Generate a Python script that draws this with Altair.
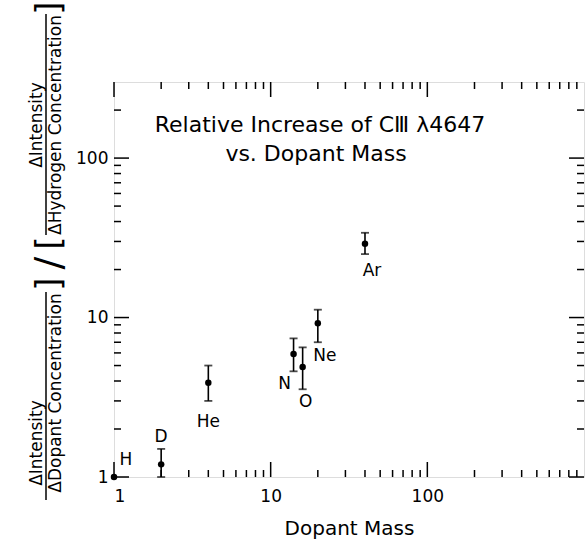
import altair as alt
import pandas as pd

# ---- data ----
elements = ["H", "D", "He", "N", "O", "Ne", "Ar"]
mass = [1, 2, 4, 14, 16, 20, 40]
ratio = [1.0, 1.2, 3.9, 5.9, 4.9, 9.2, 29.0]
err_low = [1.0, 1.0, 3.0, 4.6, 3.55, 7.0, 25.0]
err_high = [1.0, 1.5, 5.0, 7.4, 6.5, 11.2, 34.0]
has_err = [False, True, True, True, True, True, True]

x_major = [1, 10, 100]
x_minor = [2, 3, 4, 5, 6, 7, 8, 9, 20, 30, 40, 50, 60, 70, 80, 90,
           200, 300, 400, 500, 600, 700, 800, 900]
y_major = [1, 10, 100]
y_minor = [2, 3, 4, 5, 6, 7, 8, 9, 20, 30, 40, 50, 60, 70, 80, 90, 200]

title_lines = ["Relative Increase of CⅢ λ4647", "vs. Dopant Mass"]
x_title = "Dopant Mass"

# ---- styling ----
FONT = "DejaVu Sans"
W, H = 470, 395
label_offsets = {  # (dx, dy) in pixels from the point
    "H": (12, -17), "D": (0, -27), "He": (0, 39), "N": (-9, 30),
    "O": (3, 35), "Ne": (7, 33), "Ar": (7, 27),
}

df = pd.DataFrame({"el": elements, "mass": mass, "ratio": ratio,
                   "lo": err_low, "hi": err_high, "err": has_err})
xs = alt.Scale(type="log", domain=[1, 1000])
ys = alt.Scale(type="log", domain=[1, 300])

xaxis = alt.Axis(values=x_major, format="d", ticks=False, domain=False, grid=False,
                 labelFont=FONT, labelFontSize=17, labelColor="black", labelPadding=11,
                 title=x_title, titleFont=FONT, titleFontSize=20, titleFontWeight="normal",
                 titleColor="black", titlePadding=14)
yaxis = alt.Axis(values=y_major, format="d", ticks=False, domain=False, grid=False,
                 labelFont=FONT, labelFontSize=17, labelColor="black", labelPadding=6,
                 title="")

base = alt.Chart(df)
err = df[df["err"]]
errbars = alt.Chart(err).mark_rule(color="black", strokeWidth=1.6).encode(
    x=alt.X("mass:Q", scale=xs, axis=xaxis),
    y=alt.Y("lo:Q", scale=ys, axis=yaxis), y2="hi:Q")
caps_lo = alt.Chart(err).mark_tick(color="black", orient="horizontal", size=8, thickness=1.8).encode(
    x=alt.X("mass:Q", scale=xs), y=alt.Y("lo:Q", scale=ys))
caps_hi = alt.Chart(err).mark_tick(color="black", orient="horizontal", size=8, thickness=1.8).encode(
    x=alt.X("mass:Q", scale=xs), y=alt.Y("hi:Q", scale=ys))
points = base.mark_circle(color="black", opacity=1, size=42).encode(
    x=alt.X("mass:Q", scale=xs), y=alt.Y("ratio:Q", scale=ys))

labels = []
for el, (dx, dy) in label_offsets.items():
    labels.append(base.transform_filter(alt.datum.el == el).mark_text(
        font=FONT, fontSize=17, color="black", dx=dx, dy=dy, align="center", baseline="middle"
    ).encode(x=alt.X("mass:Q", scale=xs), y=alt.Y("ratio:Q", scale=ys), text="el:N"))

# inward ticks on all four sides
def xticks(vals, length):
    d = pd.DataFrame({"v": vals})
    bot = alt.Chart(d).mark_rule(color="black", strokeWidth=1.5).encode(
        x=alt.X("v:Q", scale=xs), y=alt.value(H), y2=alt.value(H - length))
    top = alt.Chart(d).mark_rule(color="black", strokeWidth=1.5).encode(
        x=alt.X("v:Q", scale=xs), y=alt.value(0), y2=alt.value(length))
    return [bot, top]

def yticks(vals, length):
    d = pd.DataFrame({"v": vals})
    left = alt.Chart(d).mark_rule(color="black", strokeWidth=1.5).encode(
        y=alt.Y("v:Q", scale=ys), x=alt.value(0), x2=alt.value(length))
    right = alt.Chart(d).mark_rule(color="black", strokeWidth=1.5).encode(
        y=alt.Y("v:Q", scale=ys), x=alt.value(W), x2=alt.value(W - length))
    return [left, right]

tick_layers = xticks(x_major, 15) + xticks(x_minor, 7) + yticks(y_major, 15) + yticks(y_minor, 7)

# in-plot title
tdf = pd.DataFrame({"t": title_lines, "i": [0, 1]})
title1 = alt.Chart(tdf).transform_filter(alt.datum.i == 0).mark_text(
    font=FONT, fontSize=22, color="black", align="center", baseline="middle").encode(
    text="t:N", x=alt.value(206), y=alt.value(43))
title2 = alt.Chart(tdf).transform_filter(alt.datum.i == 1).mark_text(
    font=FONT, fontSize=22, color="black", align="center", baseline="middle").encode(
    text="t:N", x=alt.value(202), y=alt.value(72))

# composite y-axis title (rotated), positions relative to plot origin
ytitle_parts = [
    ("]", -64, 8 - 82, 34),
    ("ΔHydrogen Concentration", -58, 125 - 82, 17),
    ("ΔIntensity", -77, 125 - 82, 17),
    ("[", -64, 243 - 82, 34),
    ("/", -64, 263 - 82, 38),
    ("]", -64, 284 - 82, 34),
    ("ΔDopant Concentration", -58, 393 - 82, 17),
    ("ΔIntensity", -77, 443 - 82, 17),
]
ytitle_layers = []
for i, (txt, px, py, fs) in enumerate(ytitle_parts):
    d = pd.DataFrame({"t": [txt]})
    ytitle_layers.append(alt.Chart(d).mark_text(
        font=FONT, fontSize=fs, color="black", angle=270, align="center", baseline="middle"
    ).encode(text="t:N", x=alt.value(px), y=alt.value(py)))
bars = pd.DataFrame({"k": ["a", "b"]})
ybar1 = alt.Chart(bars).transform_filter(alt.datum.k == "a").mark_rule(color="black", strokeWidth=1.5).encode(
    x=alt.value(-68), y=alt.value(14 - 82), y2=alt.value(235 - 82))
ybar2 = alt.Chart(bars).transform_filter(alt.datum.k == "b").mark_rule(color="black", strokeWidth=1.5).encode(
    x=alt.value(-68), y=alt.value(292 - 82), y2=alt.value(500 - 82))

chart = alt.layer(
    errbars, caps_lo, caps_hi, points, *labels, *tick_layers, title1, title2,
    *ytitle_layers, ybar1, ybar2
).properties(
    width=W, height=H,
    autosize=alt.AutoSizeParams(type="none"),
    padding={"left": 114, "top": 82, "right": 4, "bottom": 70},
).configure_view(stroke="black", strokeWidth=2).configure(background="white")

chart.save("out.html", embed_options={"renderer": "svg", "actions": False})
